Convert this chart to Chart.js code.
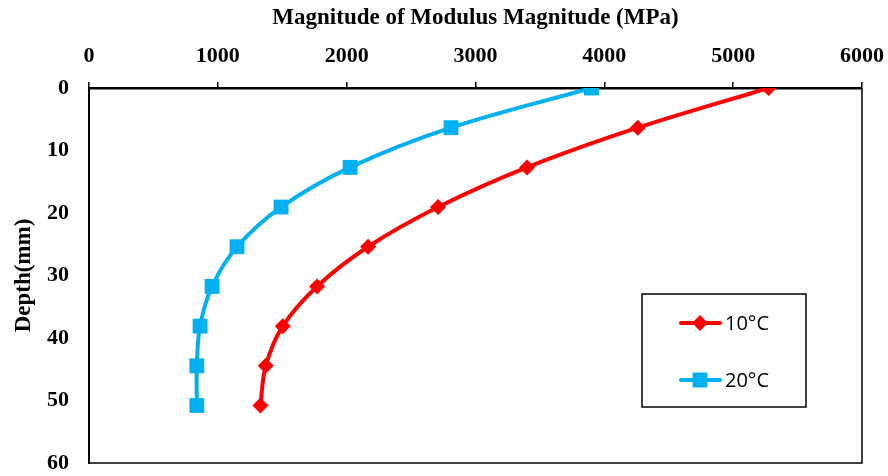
<!DOCTYPE html>
<html>
<head>
<meta charset="utf-8">
<script src="https://cdn.jsdelivr.net/npm/chart.js@4"></script>
<style>
  html, body { margin: 0; padding: 0; background: #fff; }
  #wrap { width: 888px; height: 476px; }
</style>
</head>
<body>
<div id="wrap"><canvas id="myChart"></canvas></div>
<script>
// profundidade (mm) e modulo (MPa)
const depths = [0, 6.35, 12.7, 19.05, 25.4, 31.75, 38.1, 44.45, 50.8];
const modulus10 = [5275, 4260, 3400, 2710, 2166, 1770, 1504, 1372, 1330];
const modulus20 = [3900, 2810, 2027, 1491, 1149, 955, 862, 837, 837];
const seriesNames = ['10°C', '20°C'];
const xTicks = [0, 1000, 2000, 3000, 4000, 5000, 6000];
const yTicks = [0, 10, 20, 30, 40, 50, 60];

const serif = "'Liberation Serif', 'Times New Roman', serif";

function toPoints(xs) {
    return xs.map((v, i) => ({ x: v, y: depths[i] }));
}

// moldura direita/inferior
const frame = {
    id: 'frame',
    afterDraw(chart) {
        const { ctx, chartArea: a } = chart;
        ctx.save();
        ctx.strokeStyle = '#000';
        ctx.lineWidth = 1.5;
        ctx.beginPath();
        ctx.moveTo(a.right, a.top);
        ctx.lineTo(a.right, a.bottom);
        ctx.lineTo(a.left, a.bottom);
        ctx.stroke();
        ctx.restore();
    }
};

// legenda dentro da area do grafico
const boxLegend = {
    id: 'boxLegend',
    afterDraw(chart) {
        const { ctx } = chart;
        const bx = 642, by = 294, bw = 164, bh = 113;
        ctx.save();
        ctx.fillStyle = '#fff';
        ctx.fillRect(bx, by, bw, bh);
        ctx.strokeStyle = '#000';
        ctx.lineWidth = 1.5;
        ctx.strokeRect(bx, by, bw, bh);
        chart.data.datasets.forEach((ds, i) => {
            const cy = by + 29 + i * 57;
            ctx.strokeStyle = ds.borderColor;
            ctx.lineWidth = 4;
            ctx.lineCap = 'round';
            ctx.beginPath();
            ctx.moveTo(681, cy);
            ctx.lineTo(720, cy);
            ctx.stroke();
            ctx.fillStyle = ds.pointBackgroundColor;
            Chart.helpers.drawPoint(ctx, {
                pointStyle: ds.pointStyle,
                radius: ds.pointRadius,
                rotation: 0,
                borderWidth: 0
            }, 700, cy);
            ctx.fillStyle = '#000';
            ctx.font = "20px 'Open Sans', 'Liberation Sans', sans-serif";
            ctx.textBaseline = 'middle';
            ctx.fillText(ds.label, 725, cy + 1);
        });
        ctx.restore();
    }
};

new Chart(document.getElementById('myChart'), {
    type: 'scatter',
    data: {
        datasets: [
            {
                label: seriesNames[0],
                data: toPoints(modulus10),
                showLine: true,
                borderColor: '#FF0000',
                backgroundColor: '#FF0000',
                pointBackgroundColor: '#FF0000',
                pointBorderWidth: 0,
                pointStyle: 'rectRot',
                pointRadius: 8,
                borderWidth: 4,
                tension: 0.35
            },
            {
                label: seriesNames[1],
                data: toPoints(modulus20),
                showLine: true,
                borderColor: '#00B0F0',
                backgroundColor: '#00B0F0',
                pointBackgroundColor: '#00B0F0',
                pointBorderWidth: 0,
                pointStyle: 'rect',
                pointRadius: 10.5,
                borderWidth: 4,
                tension: 0.35
            }
        ]
    },
    options: {
        responsive: true,
        maintainAspectRatio: false,
        animation: false,
        layout: { padding: { left: 0, right: 26, top: 0, bottom: 13 } },
        plugins: {
            legend: { display: false },
            tooltip: { enabled: false }
        },
        scales: {
            x: {
                type: 'linear',
                position: 'top',
                min: 0,
                max: 6000,
                afterBuildTicks: (s) => { s.ticks = xTicks.map(v => ({ value: v })); },
                afterFit: (s) => { s.height = 88; s.paddingLeft = 0; s.paddingRight = 0; },
                ticks: {
                    color: '#000',
                    padding: 12,
                    callback: (v) => String(v),
                    font: { family: serif, size: 22, weight: 'bold' }
                },
                grid: { drawOnChartArea: false, drawTicks: true, tickLength: 6, color: '#000', lineWidth: 1.5 },
                border: { color: '#000', width: 2.5 },
                title: {
                    display: true,
                    text: 'Magnitude of Modulus Magnitude (MPa)',
                    color: '#000',
                    padding: { top: 4, bottom: 0 },
                    font: { family: serif, size: 23, weight: 'bold' }
                }
            },
            y: {
                type: 'linear',
                reverse: true,
                min: 0,
                max: 60,
                afterBuildTicks: (s) => { s.ticks = yTicks.map(v => ({ value: v })); },
                afterFit: (s) => { s.width = 89; s.paddingTop = 0; s.paddingBottom = 0; },
                ticks: {
                    color: '#000',
                    padding: 20,
                    callback: (v) => String(v),
                    font: { family: serif, size: 22, weight: 'bold' }
                },
                grid: { drawOnChartArea: false, drawTicks: false },
                border: { color: '#000', width: 2 },
                title: {
                    display: true,
                    text: 'Depth(mm)',
                    color: '#000',
                    padding: { top: 10, bottom: 0 },
                    font: { family: serif, size: 23, weight: 'bold' }
                }
            }
        }
    },
    plugins: [frame, boxLegend]
});
</script>
</body>
</html>
